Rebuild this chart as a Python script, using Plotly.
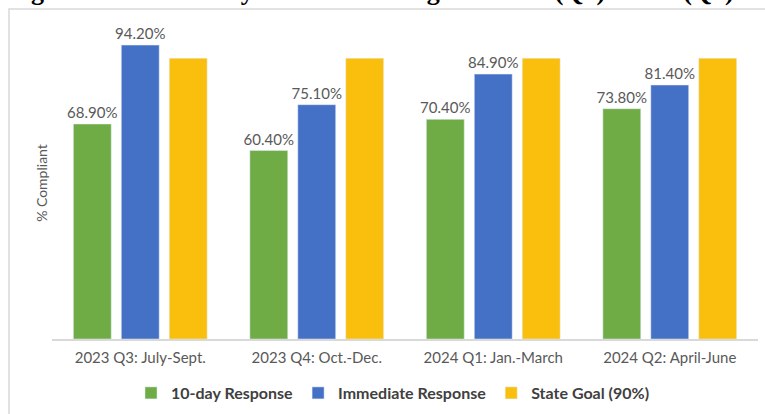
import plotly.graph_objects as go

# Quarterly compliance, % of referrals
quarters = ["2023 Q3: July-Sept.", "2023 Q4: Oct.-Dec.", "2024 Q1: Jan.-March", "2024 Q2: April-June"]
ten_day = [68.9, 60.4, 70.4, 73.8]
immediate = [94.2, 75.1, 84.9, 81.4]
state_goal = [90, 90, 90, 90]

title_text = "Figure 4: Referrals by Time to Investigation 2023(Q3) \u2013 2024(Q2)"

W, H = 765, 414
L, R, T, B = 52, 7, 27, 75
pw, ph = W - L - R, H - T - B

sans = "Lato, Calibri, sans-serif"
label_font = dict(family=sans, size=15, color="#595959")

fig = go.Figure()
fig.add_trace(go.Bar(
    x=quarters, y=ten_day, name="10-day Response",
    marker=dict(color="#6fac46"),
    texttemplate="%{y:.2f}%", textposition="outside", textfont=label_font,
    constraintext="none", cliponaxis=False,
))
fig.add_trace(go.Bar(
    x=quarters, y=immediate, name="Immediate Response",
    marker=dict(color="#4470c6"),
    texttemplate="%{y:.2f}%", textposition="outside", textfont=label_font,
    constraintext="none", cliponaxis=False,
))
fig.add_trace(go.Bar(
    x=quarters, y=state_goal, name="State Goal (90%)",
    marker=dict(color="#f9bf0c"),
))


# pixel -> paper helpers
def px_x(p):
    return (p - L) / pw


def px_y(p):
    return (H - B - p) / ph


# outer chart frame (light gray)
fig.add_shape(type="rect", xref="paper", yref="paper",
              x0=px_x(9), x1=px_x(790), y0=px_y(430), y1=px_y(9),
              line=dict(color="#d9d9d9", width=1.5), layer="below")

# figure caption, cut off by the top edge like in the source document
fig.add_annotation(
    text=title_text, xref="paper", yref="paper",
    x=px_x(6), xanchor="left", y=px_y(8), yanchor="bottom",
    showarrow=False,
    font=dict(family="Liberation Serif, Times New Roman, serif", size=26, color="black", weight="bold"),
)

fig.update_layout(
    width=W, height=H,
    margin=dict(l=L, r=R, t=T, b=B, autoexpand=False),
    paper_bgcolor="white", plot_bgcolor="white",
    barmode="group", bargap=0.185, bargroupgap=0.21,
    showlegend=True,
    legend=dict(
        orientation="h", x=px_x(393), xanchor="center", y=px_y(393), yanchor="middle",
        font=dict(family=sans, size=16, color="#404040", weight="bold"),
        itemwidth=30, traceorder="normal",
    ),
    xaxis=dict(
        showline=True, linecolor="#d9d9d9", linewidth=1.5, automargin=False,
        tickfont=label_font, ticks="", range=[-0.5, 3.5], ticklabelstandoff=4,
    ),
    yaxis=dict(
        range=[0, 100], showgrid=False, showticklabels=False, zeroline=False, automargin=False,
        title=dict(text="% Compliant", standoff=0,
                   font=dict(family=sans, size=14, color="#595959")),
    ),
)

# drop the browser's default body margin so the figure sits at the page corner
fig.write_html("out.html", config={"displayModeBar": False},
               post_script="document.body.style.margin = '0px';")
